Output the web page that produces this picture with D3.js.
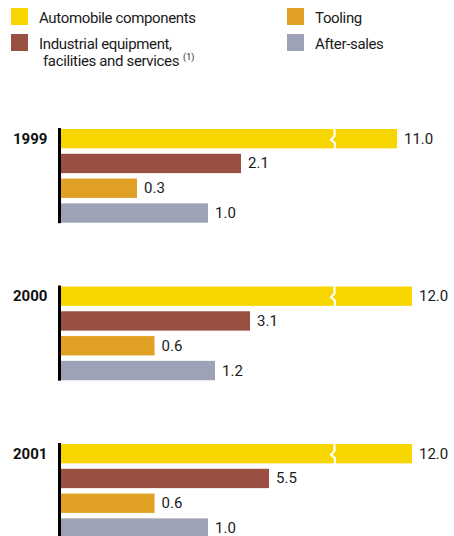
<!DOCTYPE html>
<html>
<head>
<meta charset="utf-8">
<script src="https://cdn.jsdelivr.net/npm/d3@7/dist/d3.min.js"></script>
<style>
  html, body { margin: 0; padding: 0; background: #fff; }
  svg { display: block; font-family: Roboto, "Liberation Sans", Arial, sans-serif; }
</style>
</head>
<body>
<svg id="chart" width="454" height="536"></svg>
<script>
// ---- data ----
const years = ["1999", "2000", "2001"];
const series = ["Automobile components", "Industrial equipment, facilities and services", "Tooling", "After-sales"];
const automobile = [11.0, 12.0, 12.0];
const industrial = [2.1, 3.1, 5.5];
const tooling = [0.3, 0.6, 0.6];
const afterSales = [1.0, 1.2, 1.0];
const colors = ["#F6D500", "#995042", "#E0A024", "#9EA2B6"];

const valuesBySeries = [automobile, industrial, tooling, afterSales];

// ---- layout ----
const svg = d3.select("#chart");
const x0 = 61;

// The original uses a non-proportional (broken) value axis; reproduce its stretch with a piecewise scale
const x = d3.scaleLinear()
  .domain([0, 0.3, 0.6, 1.0, 1.2, 2.1, 3.1, 5.5, 11, 12])
  .range([0, 76, 93.5, 147, 154, 180, 189, 208, 336, 351].map(d => x0 + d));
const breakValue = 8.25;

const yGroup = d3.scalePoint().domain(years).range([129, 444]);
const yBar = d3.scaleBand().domain(series).range([0, 93.7]).paddingInner(0.22);

// ---- legend ----
const legend = [
  { s: 0, x: 11, y: 8, lines: ["Automobile components"] },
  { s: 1, x: 11, y: 34, lines: ["Industrial equipment,", " facilities and services"] },
  { s: 2, x: 287, y: 8, lines: ["Tooling"] },
  { s: 3, x: 287, y: 34, lines: ["After-sales"] }
];
const lg = svg.append("g");
legend.forEach(l => {
  lg.append("rect").attr("x", l.x).attr("y", l.y).attr("width", 17).attr("height", 17)
    .attr("fill", colors[l.s]);
  const t = lg.append("text").attr("x", l.x + 28).attr("y", l.y + 14.5)
    .attr("font-size", 15).attr("letter-spacing", -0.35).attr("fill", "#1a1a1a");
  l.lines.forEach((ln, i) => {
    t.append("tspan").attr("x", l.x + 28 + (i ? 4 : 0)).attr("dy", i ? 17 : 0).text(ln.trim());
  });
  if (l.s === 1) {
    t.append("tspan").attr("dx", 4).attr("dy", -6).attr("font-size", 9).attr("letter-spacing", 0).text("(1)");
  }
});

// ---- groups ----
years.forEach((yr, gi) => {
  const gy = yGroup(yr);
  const g = svg.append("g").attr("transform", `translate(0,${gy})`);

  g.append("text").attr("x", 13).attr("y", yBar.bandwidth() / 2 + 5)
    .attr("font-size", 15).attr("font-weight", "bold").attr("fill", "#111").text(yr);

  series.forEach((s, si) => {
    const v = valuesBySeries[si][gi];
    const by = yBar(s);
    const bh = yBar.bandwidth();
    g.append("rect").attr("x", x(0)).attr("y", by)
      .attr("width", x(v) - x(0)).attr("height", bh).attr("fill", colors[si]);
    g.append("text").attr("x", x(v) + 7).attr("y", by + bh / 2 + 5)
      .attr("font-size", 15).attr("fill", "#1a1a1a").text(v.toFixed(1));
    if (si === 0) {
      const bx = x(breakValue);
      const mid = by + bh / 2;
      g.append("path")
        .attr("d", `M${bx + 1.5},${by - 1} L${bx + 1.5},${mid - 2.5} L${bx - 2},${mid + 1} L${bx + 2},${mid + 4.5} L${bx + 2},${by + bh + 1}`)
        .attr("fill", "none").attr("stroke", "#fff").attr("stroke-width", 2.2);
    }
  });

  g.append("line").attr("x1", 59.5).attr("x2", 59.5)
    .attr("y1", -1).attr("y2", yBar.range()[1] + 0.5)
    .attr("stroke", "#000").attr("stroke-width", 3);
});
</script>
</body>
</html>
